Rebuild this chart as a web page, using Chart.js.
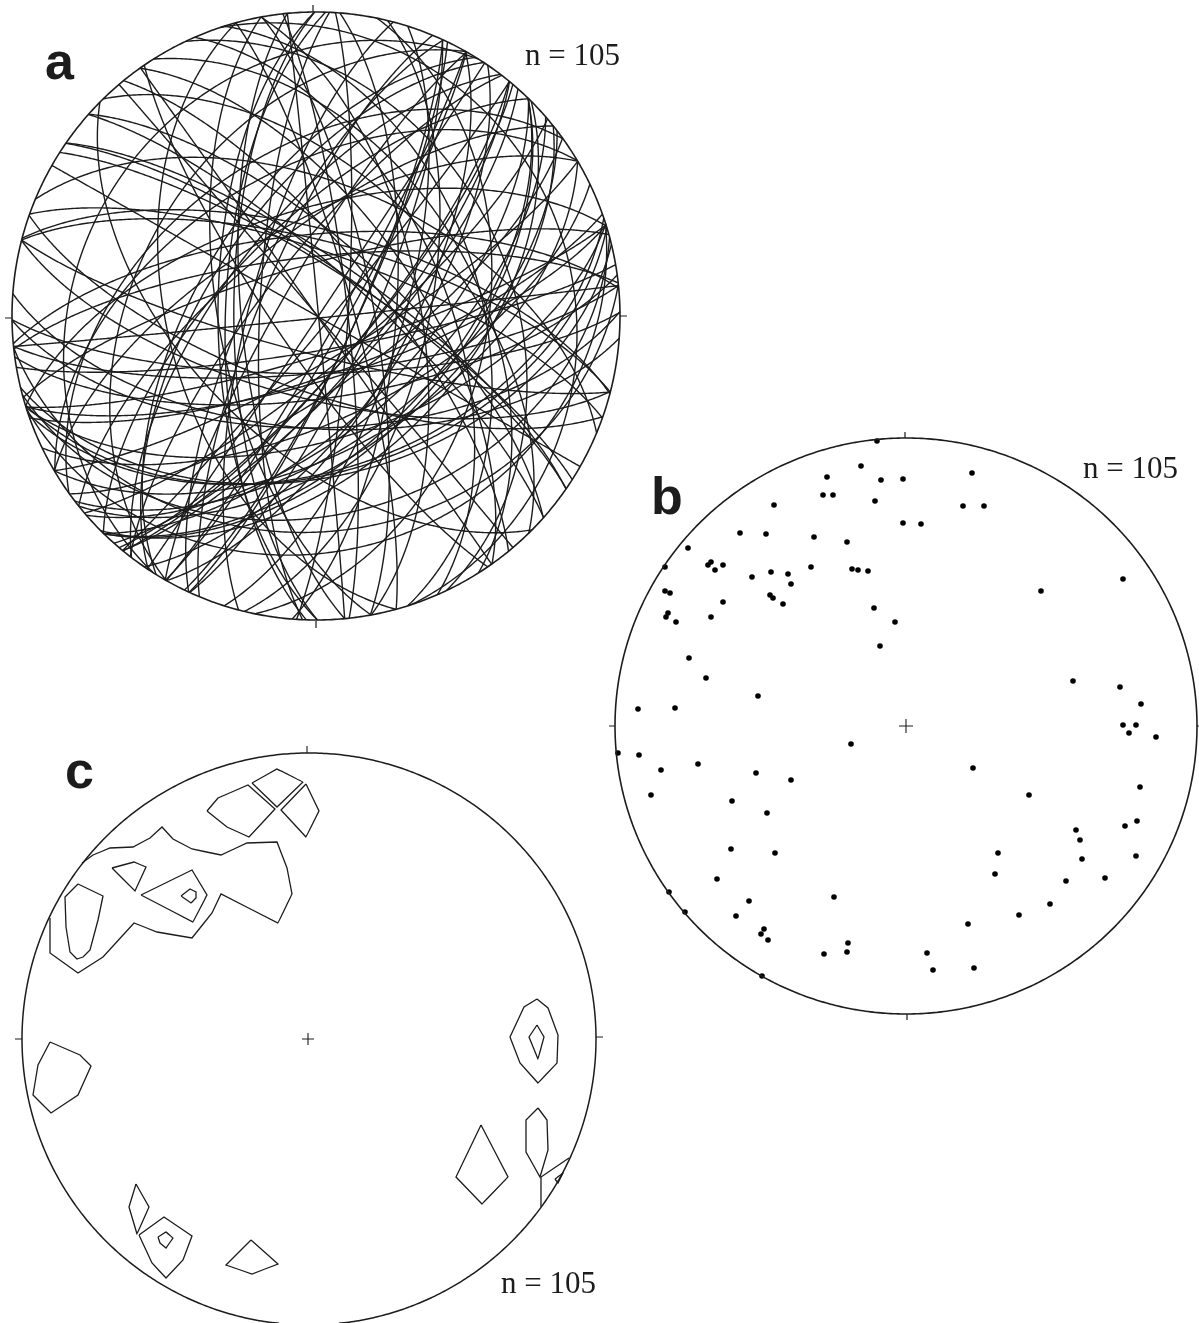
<!DOCTYPE html>
<html>
<head>
<meta charset="utf-8">
<title>Stereonets</title>
<script src="https://cdn.jsdelivr.net/npm/chart.js@4/dist/chart.umd.min.js"></script>
<style>
  html, body { margin: 0; padding: 0; background: #fff; overflow: hidden; }
  #page { position: relative; width: 1199px; height: 1323px; overflow: hidden; }
  canvas { position: absolute; }
</style>
</head>
<body>
<div id="page">
  <canvas id="netA" width="632" height="634" style="left:0;top:0"></canvas>
  <canvas id="netB" width="593" height="600" style="left:606px;top:426px"></canvas>
  <canvas id="netC" width="600" height="580" style="left:8px;top:743px"></canvas>
</div>
<script>
const polesX = [-29,-45,-79,-25,-3,-83,-73,-31,-132,-3,-166,-140,-92,-59,-218,-241,-195,-198,-183,-191,
  -154,-135,-118,-95,-54,-48,-38,-115,-241,-236,-136,-133,-183,-123,-238,-240,-230,-195,-32,-11,
  -26,-217,-200,-148,-268,-231,66,57,78,15,217,135,167,214,235,217,230,223,250,67,
  123,234,231,219,170,174,92,176,230,89,199,160,144,113,62,21,27,68,-55,-288,
  -267,-245,-208,-150,-115,-255,-174,-139,-175,-131,-189,-237,-72,-157,-221,-170,-142,-145,-138,-58,
  -59,-82,-144];
const polesY = [285,260,249,246,247,231,231,225,221,203,193,192,189,184,178,159,164,161,161,156,
  149,154,152,159,157,156,155,142,135,133,131,128,124,122,113,109,104,109,118,104,
  80,68,48,30,17,18,253,220,220,202,147,135,45,39,22,1,1,-7,-11,-42,
  -69,-61,-95,-100,-104,-114,-127,-133,-130,-148,-152,-155,-178,-189,-198,-227,-244,-242,-18,-27,
  -29,-44,-38,-47,-54,-69,-75,-87,-123,-127,-153,-166,-171,-175,-186,-190,-203,-208,-214,-217,
  -226,-228,-250];

// contour outlines of panel c, measured from the net centre
const contourMain = [[-226,176],[-215,184],[-198,191],[-175,192],[-158,201],[-146,212],[-135,200],[-116,190],[-87,184],[-61,196],[-31,197],[-21,171],[-16,145],[-30,116],[-87,145],[-96,126],[-116,101],[-151,107],[-174,116],[-205,82],[-230,66],[-258,86],[-258,121]];
const contourWest = [[-230,155],[-205,143],[-210,119],[-218,89],[-225,82],[-231,80],[-238,87],[-242,112],[-243,142],[-230,155]];
const contourTriangle = [[-196,171],[-174,177],[-162,172],[-173,148],[-196,171]];
const contourQuad = [[-167,144],[-116,169],[-101,144],[-115,117],[-167,144]];
const contourQuadInner = [[-127,143],[-118,150],[-112,147],[-112,141],[-117,136],[-127,143]];
const contourTopLeft = [[-101,228],[-90,241],[-60,254],[-33,230],[-59,202],[-81,212],[-101,228]];
const contourTopUpper = [[-56,256],[-31,270],[-5,257],[-31,232],[-56,256]];
const contourTopRight = [[-2,255],[11,228],[-2,202],[-27,229],[-2,255]];
const contourEast = [[229,40],[240,31],[250,4],[249,-24],[230,-44],[212,-24],[202,2],[216,32],[229,40]];
const contourEastInner = [[229,14],[236,2],[230,-20],[221,2],[229,14]];
const contourLens = [[230,-69],[239,-81],[240,-111],[232,-138],[218,-113],[218,-81],[230,-69]];
const contourKite = [[173,-86],[200,-138],[174,-165],[148,-138],[173,-86]];
const contourEdge = [[233,-168],[233,-138],[261,-119]];
const contourEdgeInner = [[247,-140],[255,-134],[250,-144],[247,-140]];
const contourWestLow = [[-258,-3],[-228,-16],[-217,-27],[-230,-56],[-257,-74],[-275,-56],[-270,-26],[-258,-3]];
const contourLeaf = [[-172,-145],[-159,-168],[-171,-195],[-179,-168],[-172,-145]];
const contourPentagon = [[-169,-196],[-144,-178],[-116,-197],[-125,-221],[-142,-239],[-156,-224],[-169,-196]];
const contourPentagonInner = [[-150,-198],[-142,-193],[-135,-199],[-142,-209],[-148,-204],[-150,-198]];
const contourSouth = [[-57,-201],[-30,-225],[-56,-235],[-82,-226],[-57,-201]];

const contours = [contourMain, contourWest, contourTriangle, contourQuad, contourQuadInner, contourTopLeft,
  contourTopUpper, contourTopRight, contourEast, contourEastInner, contourLens, contourKite, contourEdge,
  contourEdgeInner, contourWestLow, contourLeaf, contourPentagon, contourPentagonInner, contourSouth];

const sampleCount = 'n = 105';
const INK = '#1c1c1c';

function toXY(pairs) {
  return pairs.map(p => ({ x: p[0], y: p[1] }));
}

// tiny tension keeps chart.js off its fast path, which snaps dense curves to whole pixels
function lineSet(data, width) {
  return { data, showLine: true, borderColor: INK, borderWidth: width, pointRadius: 0, tension: 0.001, fill: false, spanGaps: false };
}

function outline(cx, cy, rx, ry) {
  const pts = [];
  for (let d = 0; d <= 360; d += 1) {
    const a = d * Math.PI / 180;
    pts.push({ x: cx + rx * Math.cos(a), y: cy + ry * Math.sin(a) });
  }
  return pts;
}

function cross(x, y, size) {
  return [{ x: x - size, y }, { x: x + size, y }, { x: NaN, y: NaN }, { x, y: y - size }, { x, y: y + size }];
}

// the four N E S W marks on the rim
function rimTicks(north, east, south, west, len) {
  return [
    { x: north[0], y: north[1] }, { x: north[0], y: north[1] + len }, { x: NaN, y: NaN },
    { x: east[0], y: east[1] }, { x: east[0] + len, y: east[1] }, { x: NaN, y: NaN },
    { x: south[0], y: south[1] }, { x: south[0], y: south[1] - len }, { x: NaN, y: NaN },
    { x: west[0], y: west[1] }, { x: west[0] - len, y: west[1] }
  ];
}

// plane of a pole on the lower hemisphere, equal-area projection
function greatCircle(px, py, radius) {
  const r = Math.min(Math.hypot(px, py), 0.999);
  const trend = Math.atan2(px, py);
  const sinP = 1 - r * r;
  const cosP = Math.sqrt(1 - sinP * sinP);
  const pts = [];
  for (let d = 0; d <= 180; d += 1) {
    const a = d * Math.PI / 180;
    const e = Math.cos(a) * Math.cos(trend) - Math.sin(a) * sinP * Math.sin(trend);
    const n = -Math.cos(a) * Math.sin(trend) - Math.sin(a) * sinP * Math.cos(trend);
    const down = Math.sin(a) * cosP;
    const h = Math.hypot(e, n) || 1;
    const rr = Math.sqrt(Math.max(0, 1 - down)) * radius;
    pts.push({ x: rr * e / h, y: rr * n / h });
  }
  return pts;
}

const panelText = {
  id: 'panelText',
  afterDraw(chart, args, opts) {
    const ctx = chart.ctx;
    ctx.save();
    ctx.fillStyle = '#1c1c1c';
    ctx.textBaseline = 'alphabetic';
    ctx.font = 'bold 52px "Liberation Sans", Arial, sans-serif';
    ctx.fillText(opts.letter, chart.scales.x.getPixelForValue(opts.letterAt[0]), chart.scales.y.getPixelForValue(opts.letterAt[1]));
    ctx.font = '31px "Liberation Serif", "Times New Roman", serif';
    ctx.fillText(sampleCount, chart.scales.x.getPixelForValue(opts.countAt[0]), chart.scales.y.getPixelForValue(opts.countAt[1]));
    ctx.restore();
  }
};

function makeNet(id, bounds, datasets, text) {
  return new Chart(document.getElementById(id), {
    type: 'scatter',
    data: { datasets },
    plugins: [panelText],
    options: {
      responsive: false,
      animation: false,
      events: [],
      layout: { padding: 0, autoPadding: false },
      plugins: { legend: { display: false }, tooltip: { enabled: false }, panelText: text },
      scales: {
        x: { type: 'linear', display: false, min: bounds[0], max: bounds[1] },
        y: { type: 'linear', display: false, min: bounds[2], max: bounds[3] }
      }
    }
  });
}

const circlesA = polesX.map((x, i) => lineSet(greatCircle(x / 291, polesY[i] / 288, 304), 1.4));
makeNet('netA', [-316, 316, -318, 316],
  [...circlesA, lineSet(outline(0, 0, 304, 304), 1.6), lineSet(rimTicks([-3, 304], [304, 0], [0, -305], [-304, -2], 7), 1.2)],
  { letter: 'a', letterAt: [-271, 237], countAt: [209, 251] });

makeNet('netB', [-300, 293, -300, 300],
  [
    lineSet(outline(0, 0, 291, 288), 1.6),
    lineSet(rimTicks([-1, 288], [291, 0], [1, -288], [-291, 0], 6), 1.2),
    lineSet(cross(0, 0, 7), 1.1),
    { data: polesX.map((x, i) => ({ x, y: polesY[i] })), pointRadius: 2.8, pointBackgroundColor: '#000', pointBorderWidth: 0, showLine: false }
  ],
  { letter: 'b', letterAt: [-255, 212], countAt: [177, 248] });

makeNet('netC', [-300, 300, -284, 296],
  [
    ...contours.map(c => lineSet(toXY(c), 1.3)),
    lineSet(outline(1, 0, 287, 286), 1.5),
    lineSet(rimTicks([-1, 286], [288, 2], [0, -286], [-286, 0], 7), 1.1),
    lineSet(cross(0, 0, 6), 1.1)
  ],
  { letter: 'c', letterAt: [-243, 251], countAt: [193, -254] });
</script>
</body>
</html>
